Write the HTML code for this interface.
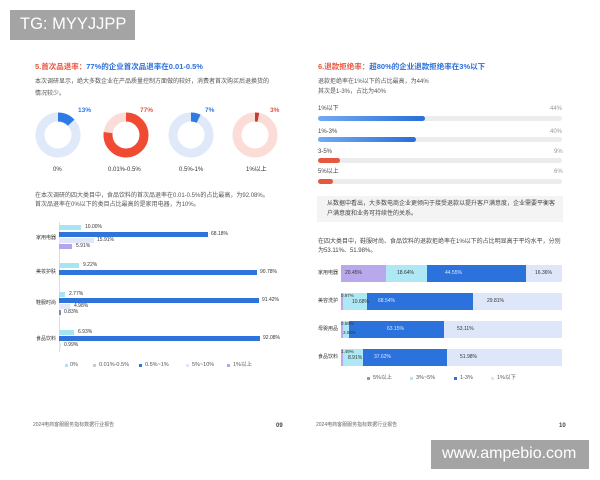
<!DOCTYPE html>
<html><head><meta charset="utf-8">
<style>
*{margin:0;padding:0;box-sizing:border-box}
body{width:600px;height:480px;background:#fff;position:relative;overflow:hidden;font-family:"Liberation Sans","Noto Sans CJK SC",sans-serif;color:#333}
.t{position:absolute;white-space:nowrap;line-height:1}
.b{position:absolute}
.p{font-size:6px;color:#555}
.s{font-size:5px;color:#333}
.lg{font-size:5.5px;color:#555}
</style></head><body>

<!-- watermark top -->
<div class="b" style="left:10px;top:10px;width:125px;height:30px;background:#a4a4a4"></div>
<div class="t" style="left:20px;top:16px;font-size:16.5px;color:#fff">TG: MYYJJPP</div>

<!-- LEFT PAGE -->
<div class="t" style="left:35px;top:63px;font-size:7.5px;font-weight:bold;color:#e8553f">5.首次品退率：<span style="color:#2a6fdb">77%的企业首次品退率在0.01-0.5%</span></div>
<div class="t p" style="left:35px;top:79px">本次调研显示，绝大多数企业在产品质量控制方面做的较好，消费者首次购买后退换货的</div>
<div class="t p" style="left:35px;top:91px">情况较少。</div>

<svg class="b" style="left:0;top:100px" width="300" height="80">
 <g transform="translate(58,35) rotate(-90)"><circle r="18" fill="none" stroke="#dfe9f9" stroke-width="9"/><circle r="18" fill="none" stroke="#2f7be6" stroke-width="9" stroke-dasharray="14.7 200"/></g>
 <g transform="translate(126,35) rotate(-90)"><circle r="18" fill="none" stroke="#fbdcd6" stroke-width="9"/><circle r="18" fill="none" stroke="#f04a32" stroke-width="9" stroke-dasharray="87.1 200"/></g>
 <g transform="translate(191,35) rotate(-90)"><circle r="18" fill="none" stroke="#dfe9f9" stroke-width="9"/><circle r="18" fill="none" stroke="#2f7be6" stroke-width="9" stroke-dasharray="7.9 200"/></g>
 <g transform="translate(255,35) rotate(-90)"><circle r="18" fill="none" stroke="#fbdcd6" stroke-width="9"/><circle r="18" fill="none" stroke="#c93a2e" stroke-width="9" stroke-dasharray="3.4 200"/></g>
</svg>
<div class="t" style="left:78px;top:108px;font-size:6.5px;font-weight:bold;color:#2f7be6">13%</div>
<div class="t" style="left:140px;top:108px;font-size:6.5px;font-weight:bold;color:#e8553f">77%</div>
<div class="t" style="left:205px;top:108px;font-size:6.5px;font-weight:bold;color:#2f7be6">7%</div>
<div class="t" style="left:270px;top:108px;font-size:6.5px;font-weight:bold;color:#e8553f">3%</div>
<div class="t" style="left:53px;top:167px;font-size:6px;color:#333">0%</div>
<div class="t" style="left:108px;top:167px;font-size:6px;color:#333">0.01%-0.5%</div>
<div class="t" style="left:179px;top:167px;font-size:6px;color:#333">0.5%-1%</div>
<div class="t" style="left:246px;top:167px;font-size:6px;color:#333">1%以上</div>

<div class="t p" style="left:35px;top:193px">在本次调研的四大类目中，食品饮料的首次品退率在0.01-0.5%的占比最高，为92.08%。</div>
<div class="t p" style="left:35px;top:202px">首次品退率在0%以下的类目占比最高的是家用电器，为10%。</div>

<!-- left bar chart -->
<div class="b" style="left:59px;top:222px;width:0.5px;height:130px;background:#ddd"></div>
<div class="t s" style="left:36px;top:236px">家用电器</div>
<div class="t s" style="left:36px;top:270px">美妆护肤</div>
<div class="t s" style="left:36px;top:301px">鞋服时尚</div>
<div class="t s" style="left:36px;top:337px">食品饮料</div>

<div class="b" style="left:59px;top:225px;width:22px;height:5px;background:#a6e6f2"></div><div class="t s" style="left:85px;top:225px">10.00%</div>
<div class="b" style="left:59px;top:232px;width:149px;height:5px;background:#2f74dc"></div><div class="t s" style="left:211px;top:232px">68.18%</div>
<div class="b" style="left:59px;top:238px;width:35px;height:5px;background:#e1e6f8"></div><div class="t s" style="left:97px;top:238px">15.91%</div>
<div class="b" style="left:59px;top:244px;width:13px;height:5px;background:#b4a6ea"></div><div class="t s" style="left:76px;top:244px">5.91%</div>

<div class="b" style="left:59px;top:263px;width:20px;height:5px;background:#a6e6f2"></div><div class="t s" style="left:83px;top:263px">9.22%</div>
<div class="b" style="left:59px;top:270px;width:198px;height:5px;background:#2f74dc"></div><div class="t s" style="left:260px;top:270px">90.78%</div>

<div class="b" style="left:59px;top:292px;width:6px;height:5px;background:#a6e6f2"></div><div class="t s" style="left:69px;top:292px">2.77%</div>
<div class="b" style="left:59px;top:298px;width:200px;height:5px;background:#2f74dc"></div><div class="t s" style="left:262px;top:298px">91.42%</div>
<div class="b" style="left:59px;top:304px;width:11px;height:5px;background:#e1e6f8"></div><div class="t s" style="left:74px;top:304px">4.98%</div>
<div class="b" style="left:59px;top:310px;width:2px;height:5px;background:#8a8aa8"></div><div class="t s" style="left:64px;top:310px">0.83%</div>

<div class="b" style="left:59px;top:330px;width:15px;height:5px;background:#a6e6f2"></div><div class="t s" style="left:78px;top:330px">6.93%</div>
<div class="b" style="left:59px;top:336px;width:201px;height:5px;background:#2f74dc"></div><div class="t s" style="left:263px;top:336px">92.08%</div>
<div class="b" style="left:59px;top:343px;width:2px;height:5px;background:#e1e6f8"></div><div class="t s" style="left:64px;top:343px">0.99%</div>

<!-- left legend -->
<div class="b" style="left:65px;top:364px;width:3px;height:3px;background:#a6e6f2"></div><div class="t lg" style="left:70px;top:363px">0%</div>
<div class="b" style="left:93px;top:364px;width:3px;height:3px;background:#ccc"></div><div class="t lg" style="left:99px;top:363px">0.01%-0.5%</div>
<div class="b" style="left:139px;top:364px;width:3px;height:3px;background:#2f74dc"></div><div class="t lg" style="left:145px;top:363px">0.5%~1%</div>
<div class="b" style="left:186px;top:364px;width:3px;height:3px;background:#e1e6f8"></div><div class="t lg" style="left:192px;top:363px">5%~10%</div>
<div class="b" style="left:227px;top:364px;width:3px;height:3px;background:#b4a6ea"></div><div class="t lg" style="left:233px;top:363px">1%以上</div>

<div class="t" style="left:33px;top:423px;font-size:5px;color:#666">2024电商客服服务指标数据行业报告</div>
<div class="t" style="left:276px;top:423px;font-size:6px;font-weight:bold;color:#444">09</div>

<!-- RIGHT PAGE -->
<div class="t" style="left:318px;top:63px;font-size:7.5px;font-weight:bold;color:#e8553f">6.退款拒绝率：<span style="color:#2a6fdb">超80%的企业退款拒绝率在3%以下</span></div>
<div class="t p" style="left:318px;top:79px">退款拒绝率在1%以下的占比最高，为44%</div>
<div class="t p" style="left:318px;top:89px">其次是1-3%，占比为40%</div>

<div class="t p" style="left:318px;top:106px;color:#444">1%以下</div><div class="t p" style="left:550px;top:106px;color:#999">44%</div>
<div class="b" style="left:318px;top:116px;width:244px;height:5px;border-radius:3px;background:#ececec"></div>
<div class="b" style="left:318px;top:116px;width:107px;height:5px;border-radius:3px;background:linear-gradient(90deg,#72aaf2,#2a6edb)"></div>

<div class="t p" style="left:318px;top:129px;color:#444">1%-3%</div><div class="t p" style="left:550px;top:129px;color:#999">40%</div>
<div class="b" style="left:318px;top:137px;width:244px;height:5px;border-radius:3px;background:#ececec"></div>
<div class="b" style="left:318px;top:137px;width:98px;height:5px;border-radius:3px;background:linear-gradient(90deg,#72aaf2,#2a6edb)"></div>

<div class="t p" style="left:318px;top:149px;color:#444">3-5%</div><div class="t p" style="left:554px;top:149px;color:#999">9%</div>
<div class="b" style="left:318px;top:158px;width:244px;height:5px;border-radius:3px;background:#ececec"></div>
<div class="b" style="left:318px;top:158px;width:22px;height:5px;border-radius:3px;background:#e5573f"></div>

<div class="t p" style="left:318px;top:169px;color:#444">5%以上</div><div class="t p" style="left:554px;top:169px;color:#999">6%</div>
<div class="b" style="left:318px;top:179px;width:244px;height:5px;border-radius:3px;background:#ececec"></div>
<div class="b" style="left:318px;top:179px;width:15px;height:5px;border-radius:3px;background:#e5573f"></div>

<div class="b" style="left:317px;top:196px;width:246px;height:26px;background:#f4f4f4"></div>
<div class="t p" style="left:327px;top:201px;color:#444">从数据中看出，大多数电商企业更倾向于接受退款以提升客户满意度，企业需要平衡客</div>
<div class="t p" style="left:327px;top:211px;color:#444">户满意度和业务可持续性的关系。</div>

<div class="t p" style="left:318px;top:239px;color:#444">在四大类目中，鞋服时尚、食品饮料的退款拒绝率在1%以下的占比明显高于平均水平，分别</div>
<div class="t p" style="left:318px;top:248px;color:#444">为53.11%、51.98%。</div>

<!-- stacked bars -->
<div class="t s" style="left:318px;top:271px">家用电器</div>
<div class="t s" style="left:318px;top:299px">美容洗护</div>
<div class="t s" style="left:318px;top:327px">母婴用品</div>
<div class="t s" style="left:318px;top:355px">食品饮料</div>

<div class="b" style="left:341px;top:265px;width:45px;height:17px;background:#b9a9ec"></div>
<div class="b" style="left:386px;top:265px;width:41px;height:17px;background:#aee8f4"></div>
<div class="b" style="left:427px;top:265px;width:99px;height:17px;background:#2b72dc"></div>
<div class="b" style="left:526px;top:265px;width:36px;height:17px;background:#dde7f9"></div>
<div class="t s" style="left:345px;top:271px">20.45%</div>
<div class="t s" style="left:397px;top:271px">18.64%</div>
<div class="t s" style="left:445px;top:271px;color:#dfe9ff">44.55%</div>
<div class="t s" style="left:535px;top:271px">16.36%</div>

<div class="b" style="left:341px;top:293px;width:2px;height:17px;background:#b9a9ec"></div>
<div class="b" style="left:343px;top:293px;width:24px;height:17px;background:#aee8f4"></div>
<div class="b" style="left:367px;top:293px;width:106px;height:17px;background:#2b72dc"></div>
<div class="b" style="left:473px;top:293px;width:89px;height:17px;background:#dde7f9"></div>
<div class="t s" style="left:341px;top:294px;font-size:4.5px">0.97%</div>
<div class="t s" style="left:352px;top:300px">10.68%</div>
<div class="t s" style="left:378px;top:299px;color:#dfe9ff">68.54%</div>
<div class="t s" style="left:487px;top:299px">29.81%</div>

<div class="b" style="left:341px;top:321px;width:2px;height:17px;background:#b9a9ec"></div>
<div class="b" style="left:343px;top:321px;width:6px;height:17px;background:#aee8f4"></div>
<div class="b" style="left:349px;top:321px;width:95px;height:17px;background:#2b72dc"></div>
<div class="b" style="left:444px;top:321px;width:118px;height:17px;background:#dde7f9"></div>
<div class="t s" style="left:341px;top:322px;font-size:4.5px">0.69%</div>
<div class="t s" style="left:343px;top:331px;font-size:4.5px">3.06%</div>
<div class="t s" style="left:387px;top:327px;color:#dfe9ff">63.15%</div>
<div class="t s" style="left:457px;top:327px">53.11%</div>

<div class="b" style="left:341px;top:349px;width:2px;height:17px;background:#b9a9ec"></div>
<div class="b" style="left:343px;top:349px;width:20px;height:17px;background:#aee8f4"></div>
<div class="b" style="left:363px;top:349px;width:84px;height:17px;background:#2b72dc"></div>
<div class="b" style="left:447px;top:349px;width:115px;height:17px;background:#dde7f9"></div>
<div class="t s" style="left:341px;top:350px;font-size:4.5px">1.49%</div>
<div class="t s" style="left:348px;top:356px">8.91%</div>
<div class="t s" style="left:374px;top:355px;color:#dfe9ff">37.62%</div>
<div class="t s" style="left:460px;top:355px">51.98%</div>

<!-- right legend -->
<div class="b" style="left:367px;top:377px;width:3px;height:3px;background:#999"></div><div class="t lg" style="left:373px;top:376px">5%以上</div>
<div class="b" style="left:410px;top:377px;width:3px;height:3px;background:#aee8f4"></div><div class="t lg" style="left:416px;top:376px">3%~5%</div>
<div class="b" style="left:454px;top:377px;width:3px;height:3px;background:#2b72dc"></div><div class="t lg" style="left:460px;top:376px">1-3%</div>
<div class="b" style="left:491px;top:377px;width:3px;height:3px;background:#dde7f9"></div><div class="t lg" style="left:497px;top:376px">1%以下</div>

<div class="t" style="left:316px;top:423px;font-size:5px;color:#666">2024电商客服服务指标数据行业报告</div>
<div class="t" style="left:559px;top:423px;font-size:6px;font-weight:bold;color:#444">10</div>

<!-- watermark bottom -->
<div class="b" style="left:431px;top:440px;width:158px;height:29px;background:#a4a4a4"></div>
<div class="t" style="left:442px;top:446px;font-size:16px;color:#fff">www.ampebio.com</div>

</body></html>
